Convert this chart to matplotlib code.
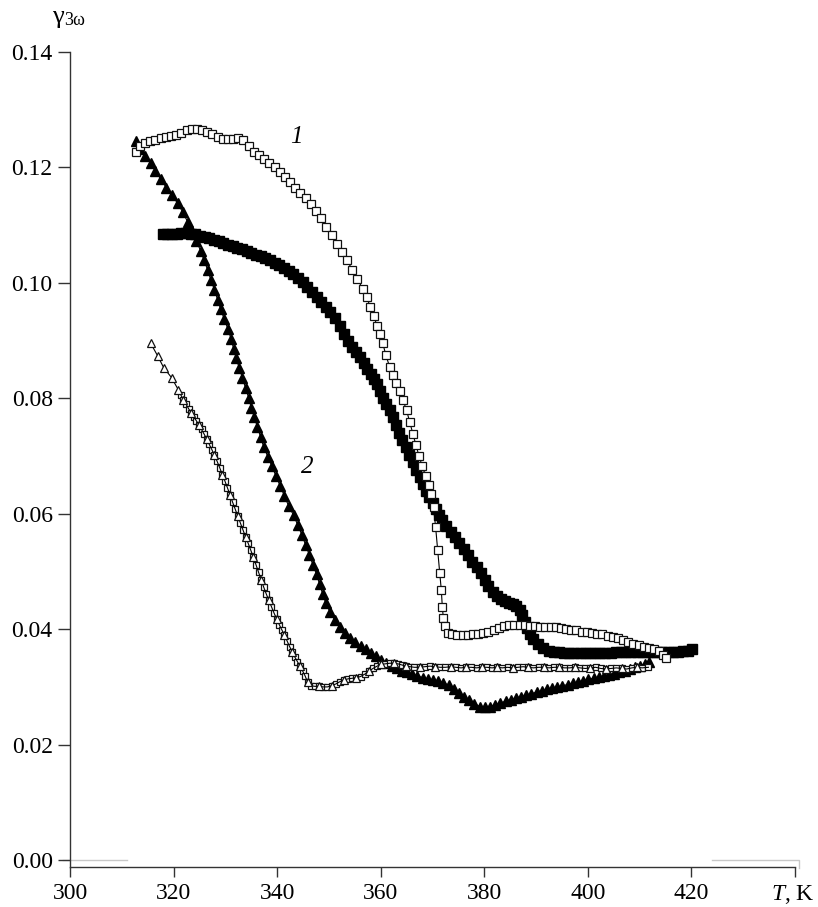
import matplotlib
matplotlib.use("Agg")
import matplotlib.pyplot as plt

plt.rcParams['font.family'] = ['Liberation Serif', 'DejaVu Serif']
plt.rcParams['mathtext.fontset'] = 'custom'
plt.rcParams['mathtext.rm'] = 'Liberation Serif'
plt.rcParams['mathtext.it'] = 'Liberation Serif:italic'

# ---- data ----
# curve 1, open squares
A_T = [312.7, 313.5, 314.5, 315.5, 316.5, 317.5, 318.5, 319.5, 320.5, 321.5, 322.5, 323.5, 324.5, 325.5,
       326.5, 327.5, 328.5, 329.5, 330.5, 331.5, 332.5, 333.5, 334.5, 335.5, 336.5, 337.5, 338.5, 339.5,
       340.5, 341.5, 342.5, 343.5, 344.5, 345.5, 346.5, 347.5, 348.5, 349.5, 350.5, 351.5, 352.5, 353.5,
       354.5, 355.5, 356.5, 357.3, 358.0, 358.7, 359.3, 359.8, 360.4, 361.0, 361.7, 362.3, 363.0, 363.7,
       364.3, 365.0, 365.6, 366.2, 366.8, 367.4, 368.0, 368.7, 369.3, 369.8, 370.2, 370.6, 371.0, 371.4,
       371.7, 371.9, 372.1, 372.4, 372.9, 373.8, 374.8, 375.8, 376.8, 377.8, 378.8, 379.8, 380.8, 381.8,
       382.8, 383.8, 384.8, 385.8, 386.8, 387.8, 388.8, 389.8, 390.8, 391.8, 392.8, 393.8, 394.8, 395.8,
       396.8, 397.8, 398.8, 399.8, 400.8, 401.8, 402.8, 403.8, 404.8, 405.8, 406.8, 407.8, 408.8, 409.8,
       410.8, 411.8, 412.8, 413.8, 414.5, 415.0]
A_g = [.1226, .1238, .1243, .1246, .1248, .1251, .1253, .1255, .1257, .1260, .1264, .1266, .1266, .1264,
       .1261, .1258, .1253, .1250, .1249, .1250, .1251, .1248, .1238, .1227, .1221, .1215, .1208, .1200,
       .1192, .1183, .1174, .1165, .1156, .1147, .1137, .1125, .1112, .1097, .1083, .1068, .1054, .1039,
       .1023, .1007, .0990, .0975, .0958, .0942, .0925, .0912, .0895, .0875, .0855, .0840, .0827, .0813,
       .0797, .0779, .0759, .0739, .0719, .0700, .0683, .0665, .0650, .0635, .0611, .0577, .0537, .0497,
       .0468, .0438, .0419, .0405, .0393, .0391, .0390, .0390, .0390, .0391, .0392, .0394, .0396, .0399,
       .0402, .0405, .0407, .0408, .0408, .0407, .0406, .0405, .0404, .0404, .0403, .0403, .0402, .0401,
       .0399, .0398, .0396, .0395, .0393, .0392, .0391, .0389, .0387, .0385, .0382, .0378, .0375, .0372,
       .0370, .0368, .0366, .0362, .0356, .0350]

# curve 1, filled squares
B_T = [317.9, 318.8, 319.7, 320.6, 321.5, 322.4, 323.3, 324.2, 325.1, 326.0, 326.9, 327.8, 328.7, 329.6,
       330.5, 331.4, 332.3, 333.2, 334.1, 335.0, 335.9, 336.8, 337.7, 338.6, 339.5, 340.4, 341.3, 342.2,
       343.1, 344.0, 344.9, 345.8, 346.7, 347.6, 348.5, 349.4, 350.3, 351.2, 352.1, 352.9, 353.7, 354.5,
       355.3, 356.0, 356.7, 357.4, 358.1, 358.7, 359.3, 359.9, 360.5, 361.1, 361.7, 362.3, 362.9, 363.6,
       364.2, 364.8, 365.5, 366.2, 366.9, 367.5, 368.1, 368.8, 369.4, 370.0, 370.6, 371.3, 371.9, 372.7,
       373.5, 374.4, 375.2, 376.0, 376.8, 377.7, 378.5, 379.3, 380.1, 380.8, 381.6, 382.4, 383.2, 384.0,
       384.8, 385.6, 386.2, 386.8, 387.3, 387.8, 388.3, 388.8, 389.5, 390.4, 391.4, 392.4, 393.4, 394.4,
       395.4, 396.4, 397.4, 398.4, 399.4, 400.4, 401.4, 402.4, 403.4, 404.4, 405.4, 406.4, 407.4, 408.4,
       409.4, 410.4, 411.4, 412.4, 413.4, 414.4, 415.4, 416.4, 417.4, 418.4, 419.4, 420.2]
B_g = [.1084, .1085, .1085, .1085, .1086, .1086, .1085, .1084, .1082, .1080, .1078, .1075, .1072, .1069,
       .1066, .1064, .1061, .1058, .1055, .1052, .1049, .1046, .1043, .1039, .1035, .1031, .1026, .1021,
       .1016, .1008, .1001, .0993, .0984, .0976, .0967, .0958, .0950, .0940, .0925, .0912, .0899, .0889,
       .0880, .0871, .0861, .0851, .0842, .0834, .0824, .0813, .0800, .0790, .0779, .0767, .0754, .0740,
       .0727, .0715, .0702, .0689, .0675, .0664, .0652, .0640, .0629, .0619, .0609, .0598, .0589, .0579,
       .0569, .0559, .0549, .0539, .0528, .0517, .0507, .0497, .0485, .0475, .0465, .0457, .0452, .0449,
       .0446, .0444, .0440, .0433, .0424, .0413, .0402, .0392, .0383, .0374, .0367, .0363, .0361, .0360,
       .0359, .0358, .0358, .0358, .0358, .0358, .0358, .0359, .0359, .0359, .0360, .0360, .0360, .0360,
       .0360, .0360, .0360, .0360, .0360, .0360, .0360, .0361, .0361, .0362, .0363, .0365]

# curve 2, filled triangles
C_T = [312.7, 313.6, 314.5, 315.6, 316.5, 317.5, 318.6, 319.6, 320.8, 321.8, 322.7, 323.6, 324.4, 325.2,
       325.9, 326.6, 327.2, 327.9, 328.5, 329.1, 329.8, 330.5, 331.1, 331.6, 332.1, 332.7, 333.3, 333.9,
       334.5, 335.0, 335.6, 336.2, 336.8, 337.4, 338.2, 339.0, 339.8, 340.6, 341.4, 342.2, 343.2, 344.0,
       344.8, 345.5, 346.2, 346.9, 347.6, 348.2, 348.8, 349.4, 350.2, 351.1, 352.1, 353.1, 354.1, 355.1,
       356.1, 357.1, 358.1, 359.1, 360.1, 361.1, 362.1, 363.1, 364.1, 365.1, 366.1, 367.1, 368.1, 369.1,
       370.1, 371.1, 372.1, 373.1, 374.1, 375.1, 376.1, 377.1, 378.1, 379.1, 380.1, 381.1, 382.1, 383.1,
       384.1, 385.1, 386.1, 387.1, 388.1, 389.1, 390.1, 391.1, 392.1, 393.1, 394.1, 395.1, 396.1, 397.1,
       398.1, 399.1, 400.1, 401.1, 402.1, 403.1, 404.1, 405.1, 406.1, 407.1, 408.1, 409.1, 410.1, 411.1,
       411.8]
C_g = [.1245, .1232, .1220, .1207, .1194, .1180, .1165, .1152, .1138, .1122, .1106, .1090, .1073, .1056,
       .1039, .1022, .1005, .0988, .0971, .0954, .0937, .0920, .0903, .0886, .0869, .0852, .0835, .0818,
       .0801, .0784, .0767, .0750, .0733, .0716, .0699, .0682, .0665, .0648, .0631, .0614, .0597, .0580,
       .0563, .0546, .0529, .0512, .0495, .0478, .0461, .0445, .0430, .0416, .0404, .0393, .0384, .0377,
       .0371, .0365, .0359, .0353, .0347, .0342, .0337, .0332, .0328, .0325, .0322, .0319, .0316, .0314,
       .0312, .0310, .0307, .0303, .0297, .0290, .0283, .0277, .0271, .0266, .0265, .0266, .0269, .0272,
       .0275, .0278, .0281, .0283, .0286, .0288, .0291, .0293, .0296, .0298, .0300, .0302, .0304, .0306,
       .0308, .0311, .0313, .0315, .0317, .0319, .0321, .0323, .0326, .0328, .0331, .0334, .0337, .0340,
       .0343]

# curve 2, open triangles (with open squares overlapping)
D_T = [315.6, 316.9, 318.1, 319.6, 320.9, 321.4, 321.9, 322.4, 322.9, 323.4, 323.9, 324.4, 324.9, 325.4,
       325.9, 326.4, 326.9, 327.4, 327.9, 328.4, 328.9, 329.4, 329.9, 330.4, 330.9, 331.4, 331.9, 332.4,
       332.9, 333.4, 333.9, 334.4, 334.9, 335.4, 335.9, 336.4, 336.9, 337.4, 337.9, 338.4, 338.9, 339.4,
       339.9, 340.4, 340.9, 341.4, 341.9, 342.4, 342.9, 343.4, 343.9, 344.4, 344.9, 345.4, 345.9, 346.5,
       347.3, 348.1, 348.9, 349.7, 350.5, 351.3, 352.1, 352.9, 353.7, 354.5, 355.3, 356.1, 356.9, 357.7,
       358.5, 359.3, 360.1, 360.9, 361.7, 362.5, 363.3, 364.1, 364.9, 365.7, 366.5, 367.5, 368.5, 369.5,
       370.5, 371.5, 372.5, 373.5, 374.5, 375.5, 376.5, 377.5, 378.5, 379.5, 380.5, 381.5, 382.5, 383.5,
       384.5, 385.5, 386.5, 387.5, 388.5, 389.5, 390.5, 391.5, 392.5, 393.5, 394.5, 395.5, 396.5, 397.5,
       398.5, 399.5, 400.5, 401.5, 402.5, 403.5, 404.5, 405.5, 406.5, 407.5, 408.5, 409.5, 410.5, 411.7]
D_g = [.0895, .0874, .0853, .0836, .0815, .0806, .0797, .0790, .0782, .0775, .0768, .0761, .0754, .0746,
       .0738, .0729, .0720, .0711, .0701, .0691, .0680, .0668, .0657, .0645, .0633, .0620, .0608, .0596,
       .0584, .0572, .0560, .0549, .0537, .0525, .0512, .0499, .0486, .0473, .0461, .0450, .0439, .0428,
       .0418, .0408, .0399, .0390, .0380, .0370, .0361, .0352, .0344, .0336, .0328, .0319, .0308, .0302,
       .0301, .0301, .0300, .0300, .0302, .0305, .0309, .0312, .0314, .0315, .0316, .0318, .0322, .0327,
       .0332, .0336, .0339, .0340, .0341, .0341, .0340, .0338, .0336, .0335, .0334, .0334, .0335, .0336,
       .0335, .0334, .0334, .0335, .0334, .0333, .0334, .0334, .0333, .0334, .0334, .0333, .0334, .0333,
       .0334, .0333, .0334, .0335, .0334, .0333, .0334, .0334, .0333, .0334, .0334, .0333, .0333, .0334,
       .0333, .0332, .0333, .0334, .0332, .0331, .0332, .0333, .0332, .0331, .0333, .0334, .0333, .0334]

x_ticks = [300, 320, 340, 360, 380, 400, 420, 440]
x_ticklabels = ['300', '320', '340', '360', '380', '400', '420', '']
x_axis_label = '$T$, K'
y_ticks = [0.00, 0.02, 0.04, 0.06, 0.08, 0.10, 0.12, 0.14]
y_ticklabels = ['0.00', '0.02', '0.04', '0.06', '0.08', '0.10', '0.12', '0.14']

# ---- figure ----
W, H = 818, 907
fig = plt.figure(figsize=(W / 100, H / 100), dpi=100)
ax = fig.add_axes([70 / W, (H - 867) / H, 725 / W, 815 / H])
ax.set_xlim(300, 440)
ax.set_ylim(-0.0012, 0.14)

ec = '#111111'
ax.plot(B_T, B_g, '-', color='black', lw=0.8, marker='s', ms=7.5, mfc='black', mec='black', zorder=2)
ax.plot(C_T, C_g, '-', color='black', lw=0.8, marker='^', ms=7.0, mfc='black', mec='black', zorder=3)
ax.plot(A_T, A_g, '-', color='black', lw=0.8, marker='s', ms=5.8, mfc='white', mec=ec, mew=0.9, zorder=4)
ax.plot(D_T[5:], D_g[5:], '-', color='black', lw=0.8, marker='s', ms=5.0, mfc='white', mec=ec, mew=0.9, zorder=5)
ax.plot(D_T, D_g, '-', color='black', lw=0.8, marker='^', ms=5.8, mfc='white', mec=ec, mew=0.9,
        markevery=[0, 1, 2, 3, 4] + list(range(6, len(D_T), 3)), zorder=6)

# curve labels
ax.text(343.8, 0.1253, '1', fontsize=18, style='italic', ha='center', va='center')
ax.text(345.8, 0.0681, '2', fontsize=18, style='italic', ha='center', va='center')

# spines / ticks
for s in ['top', 'right']:
    ax.spines[s].set_visible(False)
for s in ['left', 'bottom']:
    ax.spines[s].set_color('#333333')
    ax.spines[s].set_linewidth(1.0)
ax.spines['left'].set_bounds(-0.0012, 0.14)

ax.set_xticks(x_ticks)
ax.set_xticklabels(x_ticklabels)
ax.set_yticks(y_ticks)
ax.set_yticklabels(y_ticklabels)
ax.tick_params(axis='x', direction='out', length=7.5, width=1.0, color='#333333', labelsize=17, pad=4)
ax.tick_params(axis='y', direction='out', length=8.5, width=1.0, color='#333333', labelsize=17, pad=4)
ax.yaxis.get_major_ticks()[0].tick1line.set_color('#c8c8c8')

# x axis label at the end of the axis
fig.text(815 / W, 1 - 883 / H, x_axis_label, fontsize=17, ha='right', va='top')

# light grey guide segments along the zero line
ax.plot([298.6, 311.0], [0.0, 0.0], color='#c8c8c8', lw=1.0, clip_on=False, zorder=1)
ax.plot([424.0, 440.8, 440.8], [0.0, 0.0, -0.0013], color='#c8c8c8', lw=1.0, clip_on=False, zorder=1)

# y axis label
fig.text(52 / W, 1 - 23 / H, 'γ', fontsize=19, va='baseline', ha='left')
fig.text(64 / W, 1 - 25 / H, '3ω', fontsize=13, va='baseline', ha='left')

fig.savefig('out.png', dpi=100)
